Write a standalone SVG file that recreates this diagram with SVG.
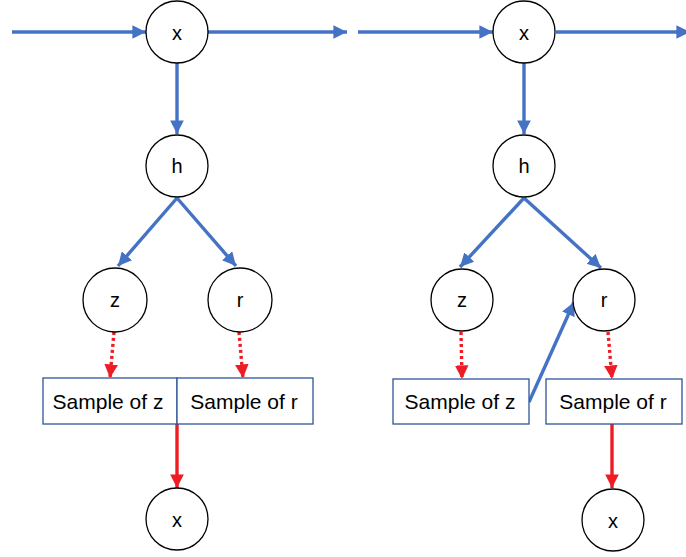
<svg xmlns="http://www.w3.org/2000/svg" width="686" height="557" viewBox="0 0 686 557">
  <style>
    .node circle { fill: #ffffff; stroke: #000000; stroke-width: 1.3; }
    .node rect { fill: #ffffff; stroke: #2F5597; stroke-width: 1.3; }
    .node text { font-family: "Liberation Sans", Arial, sans-serif; font-size: 20px; fill: #000000; text-anchor: middle; dominant-baseline: central; }
    .node text.box { font-size: 21px; }
    .blue { stroke: #4472C4; stroke-width: 3.4; fill: none; marker-end: url(#ab); }
    .red { stroke: #EE1C25; stroke-width: 3.4; fill: none; marker-end: url(#ar); }
    .dot { stroke: #EE1C25; stroke-width: 3.4; fill: none; stroke-dasharray: 3 3; marker-end: url(#ar); }
  </style>
  <defs>
    <marker id="ab" viewBox="0 0 10 10" refX="10" refY="5" markerWidth="4" markerHeight="4" orient="auto" markerUnits="strokeWidth">
      <path d="M0,0 L10,5 L0,10 z" fill="#4472C4"/>
    </marker>
    <marker id="ar" viewBox="0 0 10 10" refX="10" refY="5" markerWidth="4" markerHeight="4" orient="auto" markerUnits="strokeWidth">
      <path d="M0,0 L10,5 L0,10 z" fill="#EE1C25"/>
    </marker>
  </defs>
  <rect width="686" height="557" fill="#ffffff"/>

  <g id="connectors">
    <!-- left model -->
    <line class="blue" x1="12" y1="32" x2="146" y2="32"/>
    <line class="blue" x1="208" y1="32" x2="347" y2="32"/>
    <line class="blue" x1="177" y1="63" x2="177" y2="134"/>
    <line class="blue" x1="177" y1="198" x2="118" y2="266"/>
    <line class="blue" x1="177" y1="198" x2="236" y2="266"/>
    <line class="dot" x1="114" y1="332" x2="110" y2="378"/>
    <line class="dot" x1="239" y1="332" x2="243" y2="378"/>
    <line class="red" x1="177" y1="424" x2="177" y2="488"/>
    <!-- right model -->
    <line class="blue" x1="358" y1="32" x2="493" y2="32"/>
    <line class="blue" x1="556" y1="32" x2="690" y2="32"/>
    <line class="blue" x1="524" y1="63" x2="524" y2="134"/>
    <line class="blue" x1="524" y1="198" x2="460" y2="267"/>
    <line class="blue" x1="524" y1="198" x2="601" y2="268"/>
    <line class="blue" x1="529" y1="402" x2="574" y2="302"/>
    <line class="dot" x1="461" y1="332" x2="462" y2="379"/>
    <line class="dot" x1="608" y1="332" x2="612" y2="379"/>
    <line class="red" x1="612" y1="424" x2="612" y2="488"/>
  </g>

  <!-- left model nodes -->
  <g id="L_x_in" class="node"><circle cx="177" cy="32" r="31"/><text x="177" y="33">x</text></g>
  <g id="L_h" class="node"><circle cx="177" cy="166" r="31"/><text x="177" y="166">h</text></g>
  <g id="L_z" class="node"><circle cx="115" cy="300" r="32"/><text x="115" y="300">z</text></g>
  <g id="L_r" class="node"><circle cx="240" cy="300" r="32"/><text x="240" y="300">r</text></g>
  <g id="L_sz" class="node"><rect x="43" y="378" width="134" height="46"/><text class="box" x="108" y="401">Sample of z</text></g>
  <g id="L_sr" class="node"><rect x="177" y="378" width="136" height="46"/><text class="box" x="244" y="401">Sample of r</text></g>
  <g id="L_x_out" class="node"><circle cx="177" cy="519" r="31"/><text x="177" y="520">x</text></g>

  <!-- right model nodes -->
  <g id="R_x_in" class="node"><circle cx="524" cy="32" r="31"/><text x="524" y="33">x</text></g>
  <g id="R_h" class="node"><circle cx="524" cy="166" r="31"/><text x="524" y="166">h</text></g>
  <g id="R_z" class="node"><circle cx="462" cy="300" r="31"/><text x="462" y="300">z</text></g>
  <g id="R_r" class="node"><circle cx="604" cy="300" r="31"/><text x="604" y="300">r</text></g>
  <g id="R_sz" class="node"><rect x="393" y="379" width="136" height="45"/><text class="box" x="460" y="401">Sample of z</text></g>
  <g id="R_sr" class="node"><rect x="546" y="379" width="136" height="45"/><text class="box" x="613" y="401">Sample of r</text></g>
  <g id="R_x_out" class="node"><circle cx="613" cy="520" r="31"/><text x="613" y="521">x</text></g>
</svg>
